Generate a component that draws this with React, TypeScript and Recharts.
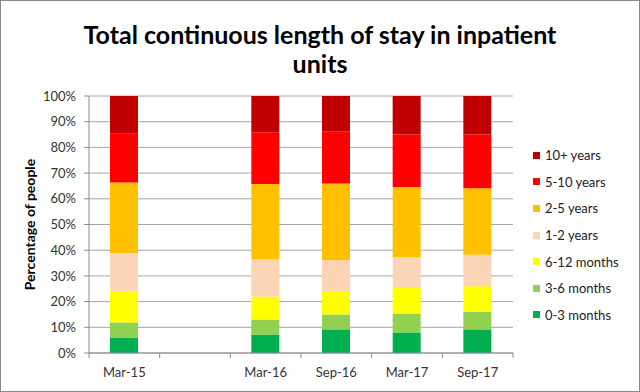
/**
 * LengthOfStayChart — 100% stacked columns of continuous inpatient stay, by census date.
 */
import React from 'react';
import { BarChart, Bar, XAxis, YAxis, CartesianGrid } from 'recharts';

// census dates; the blank slot is the missing Sep-15 census
const PERIODS = ['Mar-15', '', 'Mar-16', 'Sep-16', 'Mar-17', 'Sep-17'];

// percentages per band, in period order (null = no data)
const M0_3   = [5.9, null, 7.2, 9.2, 8.0, 9.2];
const M3_6   = [6.0, null, 5.8, 5.8, 7.3, 6.8];
const M6_12  = [11.9, null, 9.0, 9.1, 10.0, 10.0];
const Y1_2   = [15.0, null, 14.5, 12.0, 12.1, 12.2];
const Y2_5   = [27.5, null, 29.3, 29.9, 27.2, 25.9];
const Y5_10  = [19.0, null, 20.1, 20.1, 20.4, 20.9];
const Y10    = [14.7, null, 14.1, 13.9, 15.0, 15.0];

const Y_TICKS = [0, 10, 20, 30, 40, 50, 60, 70, 80, 90, 100];

const SERIES = [
  { key: 'm03',  name: '0-3 months',  values: M0_3,  color: '#00B050' },
  { key: 'm36',  name: '3-6 months',  values: M3_6,  color: '#92D050' },
  { key: 'm612', name: '6-12 months', values: M6_12, color: '#FFFF00' },
  { key: 'y12',  name: '1-2 years',   values: Y1_2,  color: '#FBD5B5' },
  { key: 'y25',  name: '2-5 years',   values: Y2_5,  color: '#FFC000' },
  { key: 'y510', name: '5-10 years',  values: Y5_10, color: '#FF0000' },
  { key: 'y10',  name: '10+ years',   values: Y10,   color: '#C00000' },
];

const data = PERIODS.map((period, i) => {
  const row: Record<string, string | number | null> = { period };
  for (const s of SERIES) row[s.key] = s.values[i];
  return row;
});

const FONT = 'Lato, "Open Sans", sans-serif';
const AXIS_GREY = '#8C8C8C';
const PLOT_LEFT = 88;
const PLOT_RIGHT = 512;
const BAND = (PLOT_RIGHT - PLOT_LEFT) / PERIODS.length;

// Excel-style x ticks: marks sit on category boundaries, labels in the middle
function PeriodTick(props: any) {
  const { x, y, payload, index } = props;
  const axisY = y - 8;
  const left = x - BAND / 2;
  return (
    <g>
      <line x1={left} x2={left} y1={axisY} y2={axisY + 5} stroke={AXIS_GREY} />
      {index === PERIODS.length - 1 && (
        <line x1={x + BAND / 2} x2={x + BAND / 2} y1={axisY} y2={axisY + 5} stroke={AXIS_GREY} />
      )}
      <text x={x} y={y + 7} dy="0.71em" textAnchor="middle" fontSize={13} fill="#333" fontFamily={FONT}>
        {payload.value}
      </text>
    </g>
  );
}

function StackLegend() {
  return (
    <div style={{ position: 'absolute', left: 532, top: 141, fontFamily: FONT, fontSize: 13, color: '#222' }}>
      {[...SERIES].reverse().map((s) => (
        <div key={s.key} style={{ display: 'flex', alignItems: 'center', height: 26.6 }}>
          <span style={{ width: 7, height: 7, background: s.color, marginRight: 5 }} />
          <span>{s.name}</span>
        </div>
      ))}
    </div>
  );
}

export default function App() {
  return (
    <div style={{ position: 'relative', width: 640, height: 392, background: '#fff', boxSizing: 'border-box', border: '1px solid #878787' }}>
      <style>{'body{margin:0}'}</style>
      <div
        style={{
          position: 'absolute', left: 0, top: 19, width: 638, textAlign: 'center',
          fontFamily: FONT, fontWeight: 700, fontSize: 25, lineHeight: '29px', color: '#000',
        }}
      >
        Total continuous length of stay in inpatient
        <br />
        units
      </div>
      <BarChart
        width={638}
        height={390}
        data={data}
        margin={{ top: 95, right: 126, bottom: 12, left: 29 }}
        barSize={28}
        style={{ position: 'absolute', left: 0, top: 0 }}
      >
        <CartesianGrid vertical={false} stroke="#A6A6A6" />
        <XAxis
          dataKey="period"
          tick={<PeriodTick />}
          tickLine={false}
          axisLine={{ stroke: AXIS_GREY }}
          interval={0}
          height={26}
        />
        <YAxis
          domain={[0, 100]}
          ticks={Y_TICKS}
          interval={0}
          tickFormatter={(v: number) => `${v}%`}
          tick={{ fontSize: 13, fill: '#333', fontFamily: FONT }}
          tickLine={{ stroke: AXIS_GREY }}
          tickSize={5}
          tickMargin={8}
          axisLine={{ stroke: AXIS_GREY }}
          width={59}
          label={{
            value: 'Percentage of people', angle: -90, position: 'insideLeft', offset: 0,
            style: { textAnchor: 'middle', fontSize: 14, fontWeight: 700, fill: '#000', fontFamily: FONT },
          }}
        />
        {SERIES.map((s) => (
          <Bar key={s.key} dataKey={s.key} name={s.name} stackId="stay" fill={s.color} isAnimationActive={false} />
        ))}
      </BarChart>
      <StackLegend />
    </div>
  );
}
